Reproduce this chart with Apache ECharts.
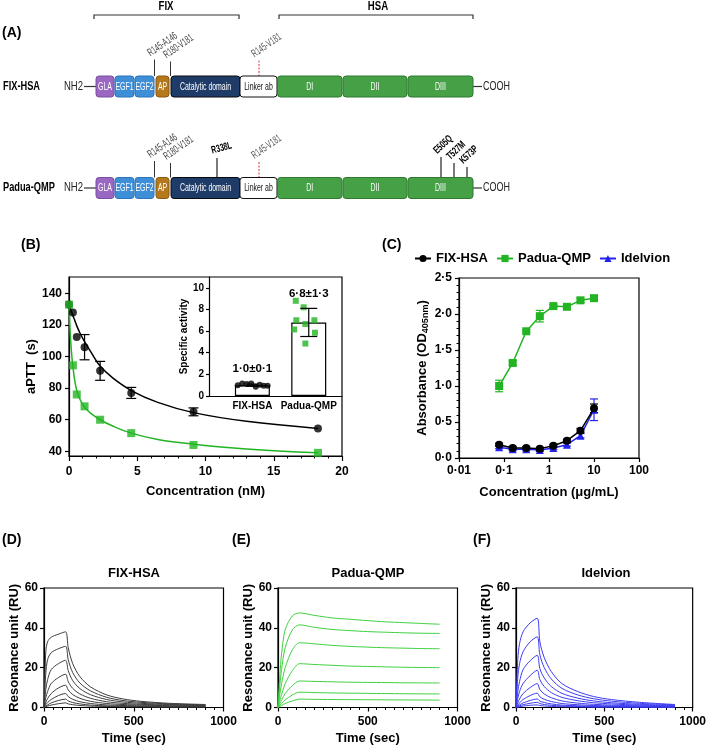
<!DOCTYPE html>
<html><head><meta charset="utf-8">
<script src="https://cdn.jsdelivr.net/npm/echarts@6/dist/echarts.min.js"></script>
<style>html,body{margin:0;padding:0;background:#fff}#c{width:709px;height:747px}</style>
</head><body><div id="c"></div><script>
// ================= DATA =================
// Panel A (schematic)
const constructNames = ['FIX-HSA', 'Padua-QMP'];
const regionNames = ['FIX', 'HSA'];
const domainNames = ['GLA', 'EGF1', 'EGF2', 'AP', 'Catalytic domain', 'Linker ab', 'DI', 'DII', 'DIII'];
const cleavageLabels = ['R145-A146', 'R180-V181'];
const linkerCleavage = 'R145-V181';
const paduaFixMutation = 'R338L';
const paduaHsaMutations = ['E505Q', 'T527M', 'K573P'];

// Panel B: aPTT
const aPTTConc = [0, 0.285, 0.57, 1.14, 2.28, 4.56, 9.12, 18.24];
const aPTTFixHsa = [133, 128, 112.5, 106, 91, 77, 65, 54.5];
const aPTTFixHsaErr = [0, 0, 0, 8, 6, 3.5, 2.5, 0];
const aPTTPadua = [133, 94.5, 76, 68.5, 60, 51.5, 44, 39];
const fitConc = [0, 0.1, 0.2, 0.285, 0.4, 0.57, 0.8, 1.14, 1.6, 2.28, 3.2, 4.56, 6.5, 9.12, 13, 18.24];
const fitFixHsa = [133, 130.5, 128, 126, 123.5, 119.5, 115, 109.5, 103, 94, 86.5, 78.5, 71, 64.5, 59, 54.5];
const fitPadua = [133, 113, 101, 94, 86, 78.5, 73, 68, 64, 60, 56, 51.5, 47.5, 44.5, 41.5, 39];
const aPTTTicks = [40, 60, 80, 100, 120, 140];

// Panel B inset: specific activity
const insetCats = ['FIX-HSA', 'Padua-QMP'];
const insetMeans = [1.0, 6.8];
const insetSD = [0.1, 1.3];
const insetText = ['1·0±0·1', '6·8±1·3'];
const insetTicks = [0, 2, 4, 6, 8, 10];
const insetFixPts = [1.0, 1.15, 1.1, 1.15, 0.85, 1.05, 0.95, 0.95];
const insetPaduaPts = [8.8, 8.2, 7.0, 6.65, 7.0, 6.15, 5.85, 4.85];
const insetFixJitter = [-0.26, -0.18, -0.1, -0.02, 0.06, 0.13, 0.2, 0.27];
const insetPaduaJitter = [-0.23, -0.09, -0.22, -0.06, 0.1, -0.26, 0.11, -0.06];

// Panel C: ELISA
const elisaConc = [0.078, 0.156, 0.3125, 0.625, 1.25, 2.5, 5, 10];
const elisaFix = [0.185, 0.14, 0.14, 0.13, 0.17, 0.24, 0.38, 0.69];
const elisaFixErr = [0.02, 0.02, 0.02, 0.02, 0.02, 0.02, 0.03, 0.06];
const elisaPadua = [1.0, 1.32, 1.76, 1.97, 2.11, 2.10, 2.19, 2.22];
const elisaPaduaErr = [0.08, 0.03, 0.02, 0.08, 0.02, 0.02, 0.03, 0.02];
const elisaIdel = [0.15, 0.12, 0.12, 0.11, 0.14, 0.185, 0.31, 0.67];
const elisaIdelErr = [0.02, 0.02, 0.02, 0.02, 0.02, 0.02, 0.03, 0.15];
const legendNames = ['FIX-HSA', 'Padua-QMP', 'Idelvion'];

// Panels D-F: SPR sensorgrams
const sprTitles = ['FIX-HSA', 'Padua-QMP', 'Idelvion'];
const sprTimeFast = [0, 10, 20, 40, 80, 120, 135, 160, 200, 260, 350, 440, 540, 700, 900];
const sprFixHsa = [
  [0, 28, 33, 35.3, 36.8, 38, 30, 22, 15.5, 10.3, 6.3, 4.3, 3.1, 2.1, 1.5],
  [0, 17, 24, 27.5, 29.5, 30.7, 24, 17.5, 12.3, 8.3, 5.1, 3.5, 2.6, 1.8, 1.3],
  [0, 9, 14, 19, 22, 23.7, 18.5, 13.5, 9.5, 6.4, 4, 2.8, 2.1, 1.5, 1.1],
  [0, 5, 8, 12, 15, 16.7, 13, 9.6, 6.8, 4.6, 2.9, 2.1, 1.6, 1.2, 0.9],
  [0, 2.5, 4.5, 7, 9.8, 11.2, 8.8, 6.5, 4.6, 3.1, 2, 1.5, 1.2, 0.9, 0.7],
  [0, 1.4, 2.5, 4, 6, 7, 5.5, 4.1, 2.9, 2, 1.3, 1, 0.8, 0.6, 0.5],
  [0, 0.7, 1.3, 2.3, 3.5, 4.2, 3.3, 2.5, 1.8, 1.2, 0.8, 0.6, 0.5, 0.4, 0.3],
  [0, 0.4, 0.7, 1.2, 1.9, 2.3, 1.8, 1.4, 1, 0.7, 0.5, 0.4, 0.3, 0.2, 0.2]
];
const sprTimeSlow = [0, 10, 20, 40, 80, 120, 200, 300, 400, 500, 600, 700, 800, 900];
const sprPadua = [
  [0, 16, 27, 39, 46, 47.5, 46.3, 45, 44.3, 43.6, 43, 42.6, 42.2, 41.8],
  [0, 11, 19, 30, 39, 41.5, 40.3, 39.2, 38.6, 38.1, 37.8, 37.5, 37.3, 37.2],
  [0, 6.5, 12, 20, 29, 32.5, 32, 31.2, 30.7, 30.3, 30, 29.8, 29.6, 29.5],
  [0, 3.5, 6.5, 12, 18.5, 22, 21.6, 21.2, 20.8, 20.6, 20.4, 20.2, 20.1, 20],
  [0, 2, 3.8, 7, 11, 13.3, 13.1, 12.9, 12.7, 12.6, 12.5, 12.4, 12.35, 12.3],
  [0, 1, 2, 3.8, 6.3, 7.7, 7.5, 7.3, 7.2, 7.1, 7, 6.9, 6.85, 6.8],
  [0, 0.5, 1, 2, 3.3, 4.2, 4.1, 4, 3.95, 3.9, 3.85, 3.8, 3.75, 3.7]
];
const sprIdelvion = [
  [0, 24, 32, 38, 42.5, 44.8, 33, 25, 18, 12, 8, 5.5, 4, 2.6, 1.5],
  [0, 15, 22, 28, 33, 35.5, 26.5, 20, 14.3, 9.6, 6.3, 4.4, 3.2, 2.1, 1.3],
  [0, 8, 13, 19, 23.5, 26.2, 19.5, 14.8, 10.5, 7.1, 4.7, 3.3, 2.4, 1.6, 1.0],
  [0, 4.5, 8, 12, 16, 18.7, 14, 10.5, 7.5, 5.1, 3.4, 2.4, 1.8, 1.2, 0.8],
  [0, 2.3, 4.3, 7, 10, 12, 9, 6.8, 4.9, 3.3, 2.2, 1.6, 1.2, 0.8, 0.6],
  [0, 1.2, 2.3, 4, 6, 7.2, 5.4, 4.1, 3, 2, 1.4, 1, 0.8, 0.6, 0.4],
  [0, 0.7, 1.3, 2.3, 3.5, 4.3, 3.2, 2.5, 1.8, 1.2, 0.85, 0.6, 0.5, 0.4, 0.3],
  [0, 0.4, 0.8, 1.4, 2.1, 2.6, 2, 1.5, 1.1, 0.75, 0.5, 0.4, 0.3, 0.25, 0.2],
  [0, 0.2, 0.4, 0.7, 1.1, 1.3, 1, 0.75, 0.55, 0.4, 0.3, 0.2, 0.2, 0.15, 0.1]
];

// ================= STYLE / LAYOUT =================
const FONT = '"Liberation Sans", Arial, Helvetica, sans-serif';
const BLACK = '#000000', GREEN = '#22b422', BLUE = '#2323f0';
const domainEdges = [[96,114],[115,134],[135,154],[156,169],[171,240],[240,277],[277.5,342],[343,407],[408,473]];
const domainFill = ['#9a67c2','#3e8fd8','#3e8fd8','#b5791d','#1f3c68','#ffffff','#45a046','#45a046','#45a046'];
const domainStroke = ['#7b4ea3','#2d74ba','#2d74ba','#8a5a12','#0a0a0a','#111111','#2f7a30','#2f7a30','#2f7a30'];
const rowCenters = [86.5, 188];

const chart = echarts.init(document.getElementById('c'), null, {renderer: 'canvas'});

function txt(x, y, text, o) {
  o = o || {};
  return {type: 'text', x: x, y: y, rotation: o.rot || 0, scaleX: o.sx || 1, z: 100,
    style: {text: text, fill: o.fill || '#000', fontSize: o.size || 12, fontWeight: o.weight || 'normal',
      fontFamily: FONT, align: o.align || 'left', verticalAlign: o.va || 'middle'}};
}
function seg(x1, y1, x2, y2, color, w, dash) {
  return {type: 'line', z: 90, shape: {x1: x1, y1: y1, x2: x2, y2: y2},
    style: {stroke: color || '#333', lineWidth: w || 1, lineDash: dash || null}};
}

// --- Panel A graphic ---
const G = [];
const NX = 0.74;
const ROT = Math.PI * 35 / 180;
G.push(txt(2, 33, '(A)', {weight: 'bold', size: 14}));
G.push({type: 'polyline', z: 90, shape: {points: [[94, 19], [94, 15], [239, 15], [239, 19]]}, style: {stroke: '#333', lineWidth: 1.2, fill: null}});
G.push({type: 'polyline', z: 90, shape: {points: [[279, 19], [279, 15], [473, 15], [473, 19]]}, style: {stroke: '#333', lineWidth: 1.2, fill: null}});
G.push(txt(166, 6.5, regionNames[0], {weight: 'bold', size: 13, align: 'center', sx: NX}));
G.push(txt(378, 6.5, regionNames[1], {weight: 'bold', size: 13, align: 'center', sx: NX}));

rowCenters.forEach(function (cy, r) {
  const top = cy - 10.5, h = 21;
  G.push(txt(3, cy, constructNames[r], {weight: 'bold', size: 12.5, sx: NX}));
  G.push(txt(64, cy, 'NH2', {size: 12.5, sx: 0.76, fill: '#222'}));
  G.push(seg(84, cy, 96, cy, '#333', 1.2));
  domainNames.forEach(function (name, i) {
    const e = domainEdges[i];
    G.push({type: 'rect', z: 95, shape: {x: e[0], y: top, width: e[1] - e[0], height: h, r: 3},
      style: {fill: domainFill[i], stroke: domainStroke[i], lineWidth: 1}});
    G.push(txt((e[0] + e[1]) / 2, cy, name, {size: 11, align: 'center', sx: 0.63, fill: i === 5 ? '#111' : '#fff'}));
  });
  G.push(seg(473, cy, 482, cy, '#333', 1.2));
  G.push(txt(483, cy, 'COOH', {size: 12.5, sx: 0.72, fill: '#222'}));
  // cleavage sites
  G.push(seg(154.5, cy - 27, 154.5, top, '#333', 1));
  G.push(seg(170.5, cy - 25, 170.5, top, '#333', 1));
  G.push(txt(152, cy - 28, cleavageLabels[0], {size: 11, sx: 0.6, rot: ROT, va: 'bottom', fill: '#444'}));
  G.push(txt(168, cy - 26, cleavageLabels[1], {size: 11, sx: 0.6, rot: ROT, va: 'bottom', fill: '#444'}));
  G.push(seg(259, cy - 26, 259, top, '#e03030', 1, [2, 1.5]));
  G.push(txt(256, cy - 27, linkerCleavage, {size: 11, sx: 0.6, rot: ROT, va: 'bottom', fill: '#555'}));
  if (r === 1) {
    G.push(seg(217, cy - 30, 217, top, '#222', 1.2));
    G.push(txt(213, cy - 32, paduaFixMutation, {size: 10.5, weight: 'bold', sx: 0.66, rot: Math.PI / 12, va: 'bottom'}));
    const mx = [441, 454, 467], my = [31, 25, 21];
    paduaHsaMutations.forEach(function (m, k) {
      G.push(seg(mx[k], cy - my[k], mx[k], top, '#222', 1.2));
      G.push(txt(mx[k] - 2, cy - my[k] - 1, m, {size: 10.5, weight: 'bold', sx: 0.66, rot: Math.PI * 0.24, va: 'bottom'}));
    });
  }
});

// panel letters & SPR titles
G.push(txt(21, 245, '(B)', {weight: 'bold', size: 14}));
G.push(txt(382, 245, '(C)', {weight: 'bold', size: 14}));
G.push(txt(2, 540, '(D)', {weight: 'bold', size: 14}));
G.push(txt(232, 540, '(E)', {weight: 'bold', size: 14}));
G.push(txt(473, 540, '(F)', {weight: 'bold', size: 14}));
const sprCenters = [134, 368, 606];
sprTitles.forEach(function (t, i) { G.push(txt(sprCenters[i], 573, t, {weight: 'bold', size: 13, align: 'center'})); });

// ================= AXES =================
function ax(o) {
  const base = {
    axisLine: {show: true, onZero: false, lineStyle: {color: '#000', width: 1.2}},
    axisTick: {show: true, inside: false, length: 4, lineStyle: {color: '#000', width: 1.2}},
    minorTick: {show: false},
    axisLabel: {color: '#000', fontFamily: FONT, fontWeight: 'bold', fontSize: 12, margin: 6},
    splitLine: {show: false},
    nameLocation: 'middle',
    nameTextStyle: {color: '#000', fontFamily: FONT, fontWeight: 'bold', fontSize: 13}
  };
  for (const k in o) {
    if (base[k] && typeof base[k] === 'object' && o[k] && typeof o[k] === 'object' && !Array.isArray(o[k])) base[k] = Object.assign({}, base[k], o[k]);
    else base[k] = o[k];
  }
  return base;
}
const dot = function (v) { return String(v).replace('.', '·'); };
const plain = function (v) { return String(v); };
const minorT = {show: true, splitNumber: 5, length: 2.5, lineStyle: {color: '#000', width: 1}};

const grids = [
  {left: 69, top: 277, width: 273, height: 179},
  {left: 209, top: 277, width: 133, height: 119},
  {left: 459, top: 278, width: 180, height: 180},
  {left: 44, top: 588, width: 179.5, height: 119.5},
  {left: 278, top: 588, width: 179.5, height: 119.5},
  {left: 516, top: 588, width: 179.5, height: 119.5}
].map(function (g, i) { return Object.assign({show: i !== 1, borderColor: '#000', borderWidth: 1.2, backgroundColor: 'transparent', containLabel: false}, g); });

const xAxes = [
  ax({gridIndex: 0, type: 'value', min: 0, max: 20, interval: 5, minorTick: minorT, axisTick: {length: 5}, axisLabel: {margin: 10, formatter: plain}, name: 'Concentration (nM)', nameGap: 29}),
  ax({gridIndex: 1, type: 'value', min: -0.77, max: 1.59, axisTick: {show: false}, axisLabel: {show: false}}),
  ax({gridIndex: 2, type: 'log', logBase: 10, min: 0.01, max: 100, axisLabel: {formatter: dot, margin: 7}, name: 'Concentration (μg/mL)', nameGap: 28})
];
const yAxes = [
  ax({gridIndex: 0, type: 'value', min: 37, max: 150.5, axisLabel: {customValues: aPTTTicks, margin: 7, formatter: plain}, axisTick: {customValues: aPTTTicks}, name: 'aPTT  (s)', nameGap: 27}),
  ax({gridIndex: 1, type: 'value', min: 0, max: 11, axisTick: {length: 3, customValues: insetTicks}, axisLabel: {fontSize: 10, margin: 5, customValues: insetTicks, formatter: plain}, name: 'Specific activity', nameGap: 16, nameTextStyle: {fontSize: 10}}),
  ax({gridIndex: 2, type: 'value', min: 0, max: 2.5, interval: 0.5, minorTick: minorT, axisLabel: {formatter: function (v) { return v.toFixed(1).replace('.', '·'); }, margin: 7},
    name: '{a|Absorbance (OD}{s|405nm}{a|)}', nameGap: 29,
    nameTextStyle: {rich: {a: {fontFamily: FONT, fontWeight: 'bold', fontSize: 13, lineHeight: 16, color: '#000'}, s: {fontFamily: FONT, fontWeight: 'bold', fontSize: 9, lineHeight: 11, verticalAlign: 'bottom', color: '#000'}}}})
];
for (let k = 3; k <= 5; k++) {
  xAxes.push(ax({gridIndex: k, type: 'value', min: 0, max: 1000, interval: 500, minorTick: {show: true, splitNumber: 10, length: 2.5, lineStyle: {color: '#000', width: 1}}, axisLabel: {margin: 8, formatter: plain}, name: 'Time (sec)', nameGap: 24}));
  yAxes.push(ax({gridIndex: k, type: 'value', min: 0, max: 60, interval: 20, axisLabel: {margin: 6, formatter: plain}, name: 'Resonance unit (RU)', nameGap: 20}));
}

// ================= SERIES =================
function zip(xs, ys) { return xs.map(function (x, i) { return [x, ys[i]]; }); }
function zip3(xs, ys, es) { return xs.map(function (x, i) { return [x, ys[i], es[i]]; }); }
function errSeries(name, xi, yi, data, color, cap) {
  return {type: 'custom', name: name, xAxisIndex: xi, yAxisIndex: yi, z: 3, silent: true, encode: {x: 0, y: 1},
    data: data,
    renderItem: function (params, api) {
      const x = api.value(0), y = api.value(1), e = api.value(2);
      if (!e) return null;
      const p1 = api.coord([x, y + e]), p2 = api.coord([x, y - e]);
      const st = {stroke: color, lineWidth: 1.2};
      return {type: 'group', children: [
        {type: 'line', shape: {x1: p1[0], y1: p1[1], x2: p2[0], y2: p2[1]}, style: st},
        {type: 'line', shape: {x1: p1[0] - cap, y1: p1[1], x2: p1[0] + cap, y2: p1[1]}, style: st},
        {type: 'line', shape: {x1: p2[0] - cap, y1: p2[1], x2: p2[0] + cap, y2: p2[1]}, style: st}]};
    }};
}
const series = [];
// Panel B
series.push({type: 'line', name: 'fitFix', xAxisIndex: 0, yAxisIndex: 0, data: zip(fitConc, fitFixHsa), smooth: 0.4, showSymbol: false, lineStyle: {color: BLACK, width: 1.5}, z: 2});
series.push({type: 'line', name: 'fitPadua', xAxisIndex: 0, yAxisIndex: 0, data: zip(fitConc, fitPadua), smooth: 0.4, showSymbol: false, lineStyle: {color: GREEN, width: 1.5}, z: 2});
series.push(errSeries('errB', 0, 0, zip3(aPTTConc, aPTTFixHsa, aPTTFixHsaErr), BLACK, 5));
series.push({type: 'scatter', name: 'ptFix', xAxisIndex: 0, yAxisIndex: 0, data: zip(aPTTConc, aPTTFixHsa), symbol: 'circle', symbolSize: 8, itemStyle: {color: BLACK}, z: 4});
series.push({type: 'scatter', name: 'ptPadua', xAxisIndex: 0, yAxisIndex: 0, data: zip(aPTTConc, aPTTPadua), symbol: 'rect', symbolSize: 8, itemStyle: {color: GREEN}, z: 5});
// Inset
series.push({type: 'bar', name: 'insetBar', xAxisIndex: 1, yAxisIndex: 1, barWidth: 35, z: 2,
  data: insetMeans.map(function (m, i) { return [i, m]; }),
  itemStyle: {color: '#fff', borderColor: '#000', borderWidth: 1.2},
  label: {show: true, position: 'bottom', distance: 5, formatter: function (p) { return insetCats[p.dataIndex]; }, color: '#000', fontFamily: FONT, fontWeight: 'bold', fontSize: 10}});
series.push({type: 'scatter', name: 'insetFix', xAxisIndex: 1, yAxisIndex: 1, z: 4, symbol: 'circle', symbolSize: 6, itemStyle: {color: BLACK},
  data: insetFixPts.map(function (v, k) { return [0 + insetFixJitter[k], v]; })});
series.push({type: 'scatter', name: 'insetPadua', xAxisIndex: 1, yAxisIndex: 1, z: 4, symbol: 'rect', symbolSize: 6, itemStyle: {color: GREEN},
  data: insetPaduaPts.map(function (v, k) { return [1 + insetPaduaJitter[k], v]; })});
series.push({type: 'custom', name: 'insetErr', xAxisIndex: 1, yAxisIndex: 1, z: 5, silent: true, encode: {x: 0, y: 1},
  data: insetMeans.map(function (m, i) { return [i, m, insetSD[i]]; }),
  renderItem: function (params, api) {
    const i = api.value(0), m = api.value(1), s = api.value(2);
    const p1 = api.coord([i, m + s]), p2 = api.coord([i, m - s]);
    const cap = i === 1 ? 8.5 : 6;
    const st = {stroke: '#000', lineWidth: 1.2};
    return {type: 'group', children: [
      {type: 'line', shape: {x1: p1[0], y1: p1[1], x2: p2[0], y2: p2[1]}, style: st},
      {type: 'line', shape: {x1: p1[0] - cap, y1: p1[1], x2: p1[0] + cap, y2: p1[1]}, style: st},
      {type: 'line', shape: {x1: p2[0] - cap, y1: p2[1], x2: p2[0] + cap, y2: p2[1]}, style: st},
      {type: 'text', x: p1[0], y: p1[1] - 15, style: {text: insetText[params.dataIndex], fill: '#000', fontFamily: FONT, fontWeight: 'bold', fontSize: 11.5, align: 'center', verticalAlign: 'middle'}}]};
  }});
// Panel C
series.push(errSeries('errIdel', 2, 2, zip3(elisaConc, elisaIdel, elisaIdelErr), BLUE, 4));
series.push({type: 'line', name: legendNames[2], xAxisIndex: 2, yAxisIndex: 2, data: zip(elisaConc, elisaIdel), symbol: 'triangle', symbolSize: 8, showAllSymbol: true, lineStyle: {color: BLUE, width: 1.5}, itemStyle: {color: BLUE}, z: 4});
series.push(errSeries('errFix', 2, 2, zip3(elisaConc, elisaFix, elisaFixErr), BLACK, 4));
series.push({type: 'line', name: legendNames[0], xAxisIndex: 2, yAxisIndex: 2, data: zip(elisaConc, elisaFix), symbol: 'circle', symbolSize: 8, showAllSymbol: true, lineStyle: {color: BLACK, width: 1.5}, itemStyle: {color: BLACK}, z: 5});
series.push(errSeries('errPadua', 2, 2, zip3(elisaConc, elisaPadua, elisaPaduaErr), GREEN, 4));
series.push({type: 'line', name: legendNames[1], xAxisIndex: 2, yAxisIndex: 2, data: zip(elisaConc, elisaPadua), symbol: 'rect', symbolSize: 8, showAllSymbol: true, lineStyle: {color: GREEN, width: 1.5}, itemStyle: {color: GREEN}, z: 5});
// Panels D-F
function sprSeries(curves, times, axisIdx, color, tag) {
  curves.forEach(function (c, i) {
    series.push({type: 'line', name: tag + i, xAxisIndex: axisIdx, yAxisIndex: axisIdx, data: zip(times, c), smooth: 0.3, showSymbol: false, lineStyle: {color: color, width: 1}, z: 2, silent: true});
  });
}
sprSeries(sprFixHsa, sprTimeFast, 3, '#3c3c3c', 'D');
sprSeries(sprPadua, sprTimeSlow, 4, '#3fcf3f', 'E');
sprSeries(sprIdelvion, sprTimeFast, 5, '#3c3cf0', 'F');

chart.setOption({
  animation: false,
  backgroundColor: '#fff',
  textStyle: {fontFamily: FONT},
  grid: grids,
  xAxis: xAxes,
  yAxis: yAxes,
  legend: {data: legendNames, top: 252, left: 414, itemWidth: 16, itemHeight: 9, itemGap: 8, padding: 0,
    textStyle: {color: '#000', fontFamily: FONT, fontWeight: 'bold', fontSize: 13}},
  graphic: G,
  series: series
});
</script></body></html>
